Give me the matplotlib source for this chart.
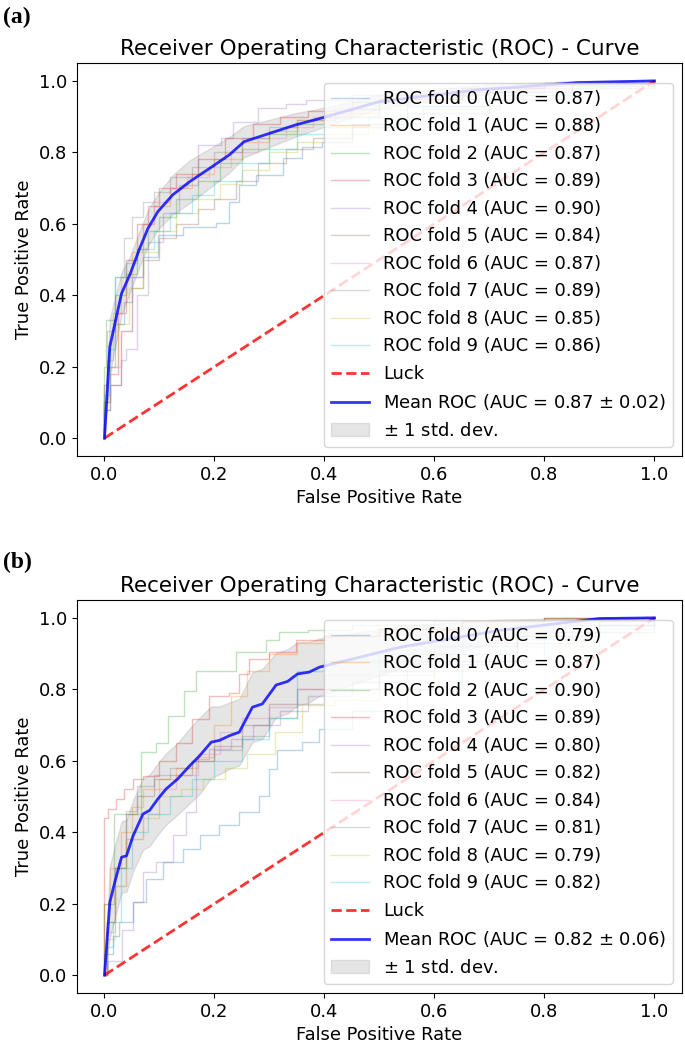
import numpy as np
import matplotlib
matplotlib.use('Agg')
import matplotlib.pyplot as plt

# ---- panel (a) data ----
auc_a = [0.87, 0.88, 0.87, 0.89, 0.90, 0.84, 0.87, 0.89, 0.85, 0.86]
folds_fpr_a = [
    [0, 0.0, 0.005, 0.02, 0.035, 0.05, 0.07, 0.097, 0.143, 0.203, 0.227, 0.245, 0.275, 0.324, 0.36, 0.396, 0.45, 0.55, 0.7, 0.85, 1.0],
    [0, 0.0, 0.005, 0.015, 0.03, 0.05, 0.07, 0.09, 0.12, 0.16, 0.2, 0.25, 0.3, 0.35, 0.4, 0.5, 0.65, 0.8, 1.0],
    [0, 0.0, 0.003, 0.02, 0.04, 0.06, 0.08, 0.1, 0.13, 0.17, 0.21, 0.25, 0.3, 0.35, 0.4, 0.5, 0.65, 0.8, 1.0],
    [0, 0.0, 0.01, 0.025, 0.04, 0.06, 0.08, 0.1, 0.13, 0.17, 0.22, 0.27, 0.32, 0.37, 0.45, 0.55, 0.7, 0.85, 1.0],
    [0, 0.0, 0.01, 0.03, 0.04, 0.06, 0.08, 0.106, 0.136, 0.17, 0.212, 0.233, 0.28, 0.33, 0.366, 0.45, 0.6, 0.8, 1.0],
    [0, 0.0, 0.01, 0.03, 0.05, 0.07, 0.1, 0.13, 0.17, 0.2, 0.24, 0.28, 0.33, 0.38, 0.45, 0.55, 0.7, 0.85, 1.0],
    [0, 0.0, 0.01, 0.03, 0.05, 0.07, 0.09, 0.12, 0.15, 0.19, 0.23, 0.28, 0.33, 0.38, 0.45, 0.55, 0.7, 0.85, 1.0],
    [0, 0.0, 0.005, 0.02, 0.035, 0.05, 0.07, 0.09, 0.12, 0.16, 0.2, 0.25, 0.3, 0.35, 0.42, 0.5, 0.65, 0.8, 1.0],
    [0, 0.0, 0.01, 0.025, 0.045, 0.07, 0.1, 0.13, 0.17, 0.21, 0.25, 0.3, 0.35, 0.4, 0.48, 0.58, 0.72, 0.86, 1.0],
    [0, 0.0, 0.01, 0.02, 0.04, 0.06, 0.09, 0.12, 0.16, 0.2, 0.25, 0.3, 0.35, 0.4, 0.48, 0.58, 0.72, 0.86, 1.0],
]
folds_tpr_a = [
    [0, 0.1, 0.2, 0.32, 0.38, 0.45, 0.508, 0.569, 0.592, 0.601, 0.662, 0.709, 0.737, 0.783, 0.816, 0.83, 0.88, 0.93, 0.97, 0.99, 1.0],
    [0, 0.15, 0.22, 0.35, 0.45, 0.52, 0.6, 0.65, 0.7, 0.74, 0.78, 0.83, 0.86, 0.89, 0.91, 0.95, 0.98, 0.995, 1.0],
    [0, 0.2, 0.33, 0.4, 0.46, 0.53, 0.58, 0.62, 0.67, 0.72, 0.77, 0.81, 0.85, 0.88, 0.9, 0.94, 0.97, 0.99, 1.0],
    [0, 0.1, 0.18, 0.35, 0.5, 0.6, 0.65, 0.7, 0.74, 0.78, 0.84, 0.88, 0.9, 0.915, 0.94, 0.96, 0.98, 0.995, 1.0],
    [0, 0.08, 0.15, 0.22, 0.25, 0.4, 0.55, 0.63, 0.709, 0.821, 0.84, 0.886, 0.923, 0.935, 0.947, 0.961, 0.98, 0.995, 1.0],
    [0, 0.08, 0.15, 0.3, 0.42, 0.5, 0.56, 0.6, 0.64, 0.67, 0.72, 0.77, 0.81, 0.84, 0.87, 0.91, 0.95, 0.98, 1.0],
    [0, 0.1, 0.2, 0.3, 0.45, 0.6, 0.66, 0.7, 0.73, 0.76, 0.8, 0.84, 0.87, 0.9, 0.92, 0.95, 0.975, 0.99, 1.0],
    [0, 0.15, 0.3, 0.45, 0.56, 0.62, 0.66, 0.69, 0.73, 0.76, 0.8, 0.84, 0.87, 0.89, 0.92, 0.95, 0.98, 0.99, 1.0],
    [0, 0.1, 0.2, 0.32, 0.42, 0.52, 0.58, 0.63, 0.67, 0.71, 0.75, 0.8, 0.83, 0.85, 0.88, 0.92, 0.96, 0.985, 1.0],
    [0, 0.12, 0.25, 0.45, 0.49, 0.53, 0.58, 0.63, 0.68, 0.72, 0.77, 0.81, 0.85, 0.87, 0.9, 0.93, 0.96, 0.985, 1.0],
]
mean_fpr_a = [0, 0.0097, 0.031, 0.046, 0.064, 0.079, 0.097, 0.124, 0.155, 0.191, 0.227, 0.254, 0.30, 0.348, 0.39, 0.5, 0.68, 0.86, 1.0]
mean_tpr_a = [0, 0.256, 0.405, 0.457, 0.531, 0.587, 0.634, 0.681, 0.718, 0.755, 0.793, 0.83, 0.853, 0.877, 0.894, 0.942, 0.975, 0.995, 1.0]
std_tpr_a = [0, 0.08, 0.06, 0.05, 0.05, 0.05, 0.05, 0.055, 0.06, 0.055, 0.05, 0.044, 0.038, 0.033, 0.028, 0.02, 0.012, 0.006, 0]
mean_auc_a, std_auc_a = 0.87, 0.02

# ---- panel (b) data ----
auc_b = [0.79, 0.87, 0.90, 0.89, 0.80, 0.82, 0.84, 0.81, 0.79, 0.82]
folds_fpr_b = [
    [0, 0.0, 0.015, 0.027, 0.052, 0.076, 0.106, 0.142, 0.173, 0.209, 0.245, 0.281, 0.299, 0.314, 0.36, 0.39, 0.45, 0.55, 0.65, 0.8, 1.0],
    [0, 0.0, 0.01, 0.03, 0.05, 0.07, 0.1, 0.13, 0.17, 0.2, 0.23, 0.26, 0.3, 0.35, 0.4, 0.5, 0.65, 0.8, 1.0],
    [0, 0.0, 0.017, 0.067, 0.094, 0.115, 0.145, 0.166, 0.239, 0.293, 0.318, 0.37, 0.45, 0.6, 0.8, 1.0],
    [0, 0.0, 0.007, 0.021, 0.036, 0.052, 0.07, 0.1, 0.13, 0.16, 0.19, 0.227, 0.245, 0.263, 0.3, 0.348, 0.4, 0.5, 0.65, 0.8, 1.0],
    [0, 0.006, 0.031, 0.052, 0.07, 0.094, 0.124, 0.148, 0.166, 0.19, 0.23, 0.27, 0.32, 0.37, 0.45, 0.55, 0.7, 0.85, 1.0],
    [0, 0.005, 0.02, 0.04, 0.06, 0.09, 0.12, 0.16, 0.2, 0.25, 0.3, 0.35, 0.4, 0.5, 0.6, 0.75, 0.9, 1.0],
    [0, 0.005, 0.02, 0.04, 0.07, 0.1, 0.13, 0.17, 0.21, 0.25, 0.3, 0.35, 0.4, 0.5, 0.6, 0.75, 0.9, 1.0],
    [0, 0.005, 0.02, 0.04, 0.06, 0.09, 0.12, 0.16, 0.2, 0.25, 0.3, 0.35, 0.4, 0.5, 0.6, 0.75, 0.9, 1.0],
    [0, 0.005, 0.02, 0.04, 0.07, 0.1, 0.14, 0.18, 0.22, 0.26, 0.31, 0.36, 0.42, 0.5, 0.6, 0.75, 0.9, 1.0],
    [0, 0.005, 0.015, 0.03, 0.05, 0.08, 0.12, 0.16, 0.2, 0.25, 0.3, 0.35, 0.4, 0.5, 0.6, 0.75, 0.9, 1.0],
]
folds_tpr_b = [
    [0, 0.06, 0.11, 0.148, 0.204, 0.27, 0.316, 0.353, 0.391, 0.419, 0.456, 0.502, 0.577, 0.629, 0.652, 0.69, 0.74, 0.8, 0.88, 0.96, 1.0],
    [0, 0.2, 0.3, 0.4, 0.47, 0.52, 0.55, 0.58, 0.61, 0.7, 0.78, 0.85, 0.9, 0.93, 0.95, 0.97, 0.99, 1.0, 1.0],
    [0, 0.2, 0.45, 0.624, 0.651, 0.726, 0.796, 0.852, 0.904, 0.937, 0.96, 0.965, 0.98, 0.99, 1.0, 1.0],
    [0, 0.44, 0.465, 0.493, 0.521, 0.549, 0.558, 0.6, 0.65, 0.717, 0.782, 0.791, 0.843, 0.885, 0.904, 0.937, 0.95, 0.97, 0.99, 1.0, 1.0],
    [0, 0.04, 0.126, 0.204, 0.289, 0.316, 0.391, 0.456, 0.605, 0.633, 0.66, 0.7, 0.74, 0.78, 0.82, 0.87, 0.93, 0.98, 1.0],
    [0, 0.15, 0.3, 0.45, 0.5, 0.55, 0.56, 0.6, 0.64, 0.7, 0.76, 0.8, 0.8, 0.85, 0.9, 0.95, 0.99, 1.0],
    [0, 0.12, 0.25, 0.38, 0.45, 0.52, 0.56, 0.62, 0.68, 0.72, 0.75, 0.8, 0.84, 0.88, 0.92, 0.96, 0.99, 1.0],
    [0, 0.15, 0.3, 0.46, 0.53, 0.56, 0.58, 0.6, 0.63, 0.67, 0.72, 0.76, 0.8, 0.84, 0.88, 0.94, 0.98, 1.0],
    [0, 0.1, 0.25, 0.38, 0.44, 0.5, 0.52, 0.55, 0.58, 0.62, 0.68, 0.756, 0.77, 0.8, 0.85, 0.92, 0.97, 1.0],
    [0, 0.08, 0.15, 0.3, 0.4, 0.45, 0.5, 0.55, 0.6, 0.66, 0.72, 0.85, 0.88, 0.9, 0.92, 0.95, 0.98, 1.0],
]
mean_fpr_b = [0, 0.0097, 0.0187, 0.031, 0.040, 0.052, 0.070, 0.082, 0.097, 0.112, 0.133, 0.155, 0.173, 0.194, 0.209, 0.227,
              0.245, 0.269, 0.287, 0.312, 0.333, 0.351, 0.372, 0.391, 0.538, 0.719, 0.9, 1.0]
mean_tpr_b = [0, 0.204, 0.26, 0.33, 0.334, 0.39, 0.451, 0.461, 0.493, 0.521, 0.549, 0.586, 0.614, 0.652, 0.657, 0.67,
              0.68, 0.75, 0.759, 0.812, 0.822, 0.843, 0.848, 0.862, 0.918, 0.965, 0.998, 1.0]
std_tpr_b = [0, 0.1, 0.1, 0.1, 0.1, 0.1, 0.1, 0.1, 0.1, 0.1, 0.1, 0.105, 0.107, 0.1, 0.095, 0.093,
             0.093, 0.098, 0.098, 0.09, 0.09, 0.089, 0.085, 0.08, 0.06, 0.03, 0.005, 0]
mean_auc_b, std_auc_b = 0.82, 0.06

panels = [
    ('(a)', auc_a, folds_fpr_a, folds_tpr_a, mean_fpr_a, mean_tpr_a, std_tpr_a, mean_auc_a, std_auc_a),
    ('(b)', auc_b, folds_fpr_b, folds_tpr_b, mean_fpr_b, mean_tpr_b, std_tpr_b, mean_auc_b, std_auc_b),
]

fs = 12.9
fig = plt.figure(figsize=(6.85, 10.5), dpi=100)
axes_pos = [[0.1124, 0.5657, 0.8832, 0.3743], [0.1124, 0.0543, 0.8832, 0.3743]]
tag_y = [1 - 17 / 1050, 1 - 562 / 1050]

for k, (tag, aucs, ffpr, ftpr, mfpr, mtpr, stpr, mauc, sauc) in enumerate(panels):
    ax = fig.add_axes(axes_pos[k])
    for i in range(10):
        ax.plot(ffpr[i], ftpr[i], drawstyle='steps-post', lw=1, alpha=0.3,
                label='ROC fold %d (AUC = %0.2f)' % (i, aucs[i]))
    ax.plot([0, 1], [0, 1], linestyle='--', lw=2, color='r', label='Luck', alpha=.8)
    mfpr = np.array(mfpr)
    mtpr = np.array(mtpr)
    stpr = np.array(stpr)
    ax.plot(mfpr, mtpr, color='b', lw=2, alpha=.8,
            label=r'Mean ROC (AUC = %0.2f $\pm$ %0.2f)' % (mauc, sauc))
    upper = np.minimum(mtpr + stpr, 1)
    lower = np.maximum(mtpr - stpr, 0)
    ax.fill_between(mfpr, lower, upper, color='grey', alpha=.2, label=r'$\pm$ 1 std. dev.')
    ax.set_xlim([-0.05, 1.05])
    ax.set_ylim([-0.05, 1.05])
    ax.set_xlabel('False Positive Rate', fontsize=fs)
    ax.set_ylabel('True Positive Rate', fontsize=fs)
    ax.set_title('Receiver Operating Characteristic (ROC) - Curve', fontsize=15.5)
    ax.tick_params(labelsize=fs)
    ax.legend(loc='lower right', fontsize=fs, labelspacing=0.53, handlelength=2.1)
    fig.text(0.005, tag_y[k], tag, fontsize=17, fontweight='bold',
             family='Liberation Serif', va='center', ha='left')

fig.savefig('out.png', dpi=100)
